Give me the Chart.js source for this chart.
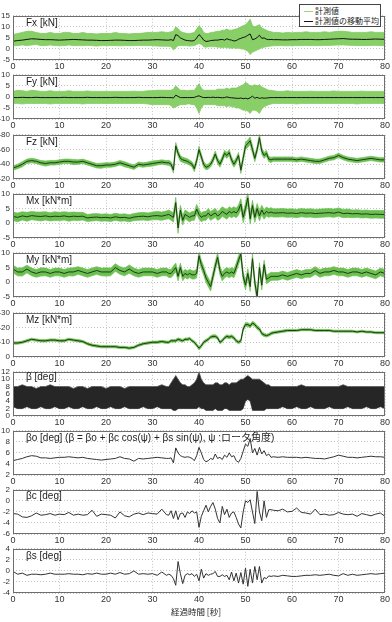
<!DOCTYPE html>
<html><head><meta charset="utf-8">
<script src="https://cdn.jsdelivr.net/npm/chart.js@4.4.1/dist/chart.umd.min.js"></script>
<style>
html,body{margin:0;padding:0;background:#fff;width:392px;height:622px;overflow:hidden;}
#wrap{position:relative;width:392px;height:622px;}
canvas{position:absolute;left:0;}
.lbl{position:absolute;left:26px;font-size:10px;font-family:"Liberation Sans",Arial,"Noto Sans CJK JP",sans-serif;color:#222;white-space:nowrap;z-index:5;line-height:12px;}
#legend{position:absolute;left:299px;top:4px;width:82px;height:23px;border:1px solid #444;background:#fff;z-index:6;box-sizing:border-box;font-family:"Noto Sans CJK JP",sans-serif;font-size:8px;color:#222;}
#legend .row{position:absolute;left:0;height:10px;line-height:10px;white-space:nowrap;}
#legend .sw{position:absolute;left:4px;top:5px;width:9px;height:0;}
#legend .tx{position:absolute;left:15px;top:0;}
#xtitle{position:absolute;left:0;width:392px;top:605px;text-align:center;font-family:"Noto Sans CJK JP",sans-serif;font-size:8.5px;color:#222;z-index:5;}
</style></head><body><div id="wrap">
<div id="legend">
 <div class="row" style="top:1px"><span class="sw" style="border-top:1.5px solid #9bd679"></span><span class="tx">計測値</span></div>
 <div class="row" style="top:11px"><span class="sw" style="border-top:1.5px solid #111"></span><span class="tx">計測値の移動平均</span></div>
</div>
<div id="xtitle">経過時間 [秒]</div>
</div>
<script>
// ---- time axis (seconds) ----
const t = [0,1,2,3,4,5,6,7,8,9,10,11,12,13,14,15,16,17,18,19,20,21,22,23,24,25,26,27,28,29,30,31,32,33,
 33.5,34,34.5,35,35.5, 36,36.5,37,37.5,38,38.5,39,39.5,40,40.5, 41,41.5,42,42.5,43,43.5,44,44.5,45,45.5,
 46,46.5,47,47.5,48,48.5,49,49.5,50,50.5, 51,51.5,52,52.5,53,53.5,54,54.5,55,55.5, 56,
 57,58,59,60,61,62,63,64,65,66,67,68,69,70,71,72,73,74,75,76,77,78,79,80];
const xTicks = [0,10,20,30,40,50,60,70,80];

// ---- Fx [kN] ----
const FxMean = [3.5,3.8,4,4.3,4.6,4.5,4.3,4.2,4.2,4.1, 4,4.1,4.2,4.3,4.2,4.1,4,4,3.9,3.8, 3.8,3.9,4,4,3.9,3.8,3.8,3.9,4,4, 4.1,4.2,4.1,4,
 4,4.2,3.8,6.5,6, 5,4.5,4,3.8,3.7,3.6,3.8,5,6.5,5.5, 4,3.4,3.5,3.8,3.9,4,4,4.2,4.3,4, 4.6,4.2,4,3.6,3.8,4.4,4.8,5.2,5.5,6.2, 6.8,4.2,4.5,5.2,6.2,4.8,5,4.4,4.2,4.3, 4.2,
 4.2,4.1,4.1,4.2,4.2,4.3,4.3,4.3,4.2,4.2, 4.3,4.4,4.5,4.6,4.7,4.5,4.4,4.4,4.3,4.3, 4.4,4.5,4.4,4.4];
const FxUpper = [6.5,7,7.5,8,8,7.5,7,7,7.5,7, 7,7.5,7.5,7,7,7.5,7,7,6.8,7, 7,7,7.5,7,7,6.8,7,7,7.2,7.5, 7.5,7.5,7.8,7.5,
 7.5,7.8,8,10,9.2, 8,7.5,7.2,7,7,7.2,7.5,9,10.5,9.5, 7.5,7,7,7.5,7.5,7.8,8,8,8.5,8.5, 9,8.5,8.5,8.8,9,9.5,10,10.5,11,12, 13.5,10.5,10,10.5,11,9.5,9,8.5,8,7.8, 7.5,
 7.5,7.2,7.5,7.3,7.5,7.5,7.8,7.5,7.5,7.5, 7.8,7.5,7.8,8,8,7.8,7.5,7.5,7.5,7.5, 7.8,7.5,7.5,7.5];
const FxLower = [1.5,1.5,1.8,1.5,1.8,2,1.5,1.5,1.8,1.5, 1.5,1.5,1.8,1.5,1.5,1.5,1.6,1.5,1.3,1.5, 1.5,1.5,1.5,1.4,1.5,1.5,1.5,1.6,1.5,1.5, 1.5,1.3,1.2,1.2,
 1.2,1,-0.5,0.5,1.5, 1.5,1.5,1.5,1.4,1.3,1.4,1.5,2,2.5,2, 1,0.8,1,1,1,1,0.8,0.8,0.5,0.8, 0.5,0.5,0.3,0.5,0.2,0.5,0,0,-0.5,-1, -2.5,-1.5,-1,-0.5,0,0.5,0.8,1,1.2,1.3, 1.4,
 1.5,1.5,1.4,1.5,1.5,1.5,1.6,1.5,1.5,1.5, 1.6,1.6,1.7,1.8,1.8,1.7,1.6,1.5,1.5,1.5, 1.6,1.6,1.5,1.5];

// ---- Fy [kN] ----
const FyMean = [-0.3,-0.3,-0.2,-0.3,-0.3,-0.2,-0.3,-0.3,-0.3,-0.3, -0.3,-0.2,-0.3,-0.3,-0.3,-0.3,-0.2,-0.3,-0.3,-0.3, -0.3,-0.3,-0.2,-0.3,-0.3,-0.3,-0.3,-0.2,-0.3,-0.3, -0.3,-0.3,-0.2,-0.3,
 -0.3,-0.3,-0.5,0.8,0.2, -0.3,-0.3,-0.3,-0.3,-0.3,-0.3,-0.2,0.2,0.5,0, -0.3,-0.3,-0.2,-0.3,-0.1,-0.3,-0.2,-0.3,-0.4,-0.3, 0,-0.3,-0.4,-0.5,-0.6,-0.7,-0.5,-0.8,-0.6,-0.9, -0.4,0.3,-0.6,-0.2,-0.7,-0.4,-0.6,-0.5,-0.4,-0.3, -0.3,
 -0.3,-0.3,-0.3,-0.3,-0.3,-0.3,-0.3,-0.3,-0.3,-0.3, -0.3,-0.3,-0.3,-0.3,-0.3,-0.3,-0.3,-0.3,-0.3,-0.3, -0.3,-0.3,-0.3,-0.3];
const FyUpper = [2.5,3,2.8,2.5,3,2.8,2.5,2.5,2.8,2.5, 2.5,2.5,2.8,2.5,2.5,2.5,2.7,2.5,2.5,2.5, 2.5,2.5,2.5,2.5,2.5,2.5,2.6,2.5,2.5,2.8, 2.8,3,3,3,
 3,3,3.5,5,4, 3,3,3,2.8,3,3,3,4.5,6,4, 3,3,3,3,3,3,3.5,3.5,3.5,3.5, 4,3.5,4,4,4,4.5,5,5.5,6.5,6, 5,5,5.5,5,5.5,4.5,4,3.5,3,3, 2.8,
 2.5,2.5,2.8,2.5,2.5,2.5,2.5,2.6,2.5,2.5, 2.5,2.5,2.7,2.5,2.5,2.5,2.5,2.5,2.6,2.5, 2.5,2.5,2.5,2.5];
const FyLower = [-3,-3,-3.2,-3,-3,-3,-3,-3,-3.2,-3, -3,-3,-3,-3,-3,-3.2,-3,-3,-3,-3, -3,-3,-3,-3,-3,-3,-3,-3,-3,-3.2, -3.5,-3.5,-3.5,-3.5,
 -3.5,-4,-5,-4.5,-4, -3.5,-3.5,-3.5,-3.2,-3.2,-3.5,-3.5,-5,-7.5,-5, -3.5,-3.5,-3.5,-3.5,-3.5,-3.5,-4,-4,-4,-4, -4.5,-4,-4.5,-4.5,-5,-5,-5.5,-6,-6,-6.5, -7.5,-6,-6,-6.5,-7.5,-5.5,-4.5,-4,-3.5,-3.2, -3,
 -3,-3,-3,-3,-3.2,-3,-3,-3,-3,-3, -3,-3,-3,-3,-3,-3,-3,-3.2,-3,-3, -3,-3,-3,-3];

// ---- Fz [kN] (axis reversed) ----
const FzMean = [-35,-37,-40,-44,-45,-44,-42,-41,-42,-42, -43,-44,-44,-43,-43,-44,-42,-40,-38,-38, -39,-39,-40,-42,-40,-38,-36,-40,-39,-40, -41,-42,-43,-42,
 -42,-40,-32,-65,-55, -48,-46,-45,-44,-42,-40,-34,-45,-60,-50, -40,-36,-37,-40,-46,-54,-45,-40,-47,-55, -52,-56,-46,-40,-45,-52,-32,-48,-65,-68, -72,-60,-48,-60,-76,-58,-52,-55,-47,-46, -47,
 -47,-47,-47,-47,-46,-47,-46,-45,-44,-44, -46,-48,-49,-52,-49,-47,-46,-45,-46,-47, -48,-47,-46,-46];
const FzSpread = [3,3,3.5,3,3,3,3,3.5,3,3, 3,3,3,3.5,3,3,3,3,3,3.5, 3,3,3,3,3.5,3,3,3,3,3, 3.5,3,3,3,
 3.5,3.5,4,4.5,4, 4,3.5,3.5,3.5,3.5,3.5,4,4,4.5,4, 4,3.5,3.5,3.5,4,4,4,4,4,4, 4,4,4,4,4,4,4.5,4.5,5,5, 5,5,4.5,4.5,5,4.5,4,4,3.5,3.5, 3,
 3,3,3,3,3,3,3,3,3,3, 3,3,3,3,3,3,3,3,3,3, 3,3,3,3];

// ---- Mx [kN*m] ----
const MxMean = [2.3,2,2.5,2.2,2.6,2.4,2.3,2.5,2.2,2.4, 2.3,2.5,2.2,2.4,2.3,2.4,1.8,2,2.1,1.9, 2,1.8,2.2,1.9,2,1.7,2.1,2.3,2.4,2.2, 2.5,2.6,2.4,2.8,
 3,2.5,2,7,-1.6, 4.5,1,3,2.5,2,2.5,2.5,4.8,3,2, 2.5,2.5,3.5,2.5,3,3.5,2.5,3,4,3.5, 3,4,3.5,4,3.5,4.5,6.5,2,5,8.6, 1.5,6,2,5,2.5,4.5,3,4,3.5,3.8, 3.5,
 3.5,3.6,3.4,3.5,3.3,3.6,3.4,3.5,3.3,3.4, 3.5,3.6,3.4,3.8,3.3,3.4,3.2,3.3,3.1,3.2, 3,3.1,3,3];
const MxSpread = [1.4,1.5,1.4,1.5,1.4,1.4,1.5,1.4,1.4,1.5, 1.4,1.4,1.5,1.4,1.4,1.3,1.2,1.2,1.2,1.2, 1.2,1.2,1.2,1.2,1.2,1.2,1.2,1.3,1.3,1.3, 1.3,1.4,1.4,1.4,
 1.5,1.5,1.6,1.8,1.8, 1.6,1.6,1.5,1.5,1.5,1.5,1.5,1.6,1.6,1.5, 1.5,1.5,1.5,1.5,1.5,1.5,1.5,1.6,1.6,1.6, 1.6,1.6,1.6,1.6,1.6,1.7,1.8,1.8,1.8,1.8, 1.8,1.8,1.7,1.7,1.7,1.6,1.6,1.5,1.5,1.5, 1.4,
 1.4,1.4,1.4,1.4,1.4,1.4,1.4,1.4,1.4,1.4, 1.4,1.4,1.4,1.4,1.4,1.4,1.3,1.3,1.3,1.3, 1.3,1.3,1.3,1.3];

// ---- My [kN*m] ----
const MyMean = [4.5,3.5,3.5,4.5,3.5,3,3.5,3.5,3,3.5, 3.5,3,3.5,3.5,4,3.5,3,3.5,4,3.5, 3.5,3.5,5,4,3.5,4.5,3.5,3,3.5,3.5, 3.5,3,3.5,3.5,
 3,3,4,5,2, 5,2,3,2.5,3,2.5,2.5,3,9,6, 4,1.5,0,-1.5,2,5.5,8.5,4,2,3, 3.5,3,3.5,3,5,7.5,9.5,2,-1,3, -1.5,8,0,-5,5,-1,6,1,1.5,2, 2,
 2,2.5,2,2.5,3,2.5,3,3,4,3, 3.5,3.5,4,3.5,3.5,3,3.5,3.5,3,3.5, 3,2.5,3.5,3];
const MySpread = [1.3,1.3,1.4,1.3,1.3,1.3,1.4,1.3,1.3,1.3, 1.3,1.3,1.3,1.4,1.3,1.3,1.3,1.3,1.3,1.3, 1.4,1.3,1.3,1.3,1.3,1.4,1.3,1.3,1.3,1.3, 1.3,1.3,1.3,1.3,
 1.4,1.4,1.5,1.5,1.5, 1.5,1.5,1.4,1.4,1.4,1.4,1.4,1.5,1.5,1.5, 1.5,1.5,1.5,1.5,1.5,1.5,1.5,1.5,1.5,1.5, 1.5,1.5,1.5,1.5,1.5,1.5,1.5,1.5,1.6,1.6, 1.6,1.6,1.6,1.6,1.6,1.6,1.5,1.5,1.4,1.4, 1.3,
 1.3,1.3,1.3,1.3,1.3,1.3,1.3,1.3,1.3,1.3, 1.3,1.3,1.3,1.3,1.3,1.3,1.3,1.3,1.3,1.3, 1.3,1.3,1.3,1.3];

// ---- Mz [kN*m] (axis reversed) ----
const MzMean = [-9.5,-9.5,-10,-11,-12,-11.5,-11,-11,-11.5,-11.5, -11,-11,-12,-11.5,-11,-10.5,-9,-8,-7.5,-7, -7,-7,-7,-6.5,-6.5,-6,-6.5,-8,-9,-9.5, -10,-10,-10.5,-10,
 -10,-11,-11,-11,-12, -11.5,-11,-12,-12,-12.5,-11,-10,-8,-6,-7.5, -10,-11,-12,-13.5,-14,-14,-13,-10,-11,-13, -14,-13.5,-14,-13,-11,-10,-11,-19,-22,-22, -21,-23,-22,-20,-19,-16,-15,-14.5,-15,-16, -16.5,
 -17,-17.5,-18,-18,-18,-18.5,-18.5,-18.5,-18,-18, -18,-18,-17.5,-17.5,-17.5,-17.5,-17.5,-17,-17.5,-17, -17,-16.5,-16.5,-16.5];
const MzSpread = [0.8,0.8,0.8,0.8,0.8,0.8,0.8,0.8,0.8,0.8, 0.8,0.8,0.8,0.8,0.8,0.8,0.8,0.8,0.8,0.8, 0.8,0.8,0.8,0.8,0.8,0.8,0.8,0.8,0.8,0.8, 0.8,0.8,0.8,0.8,
 0.9,0.9,0.9,1,1, 1,0.9,0.9,0.9,0.9,0.9,1,1,1.2,1.1, 1,1,1,1,1.1,1.1,1.1,1,1,1, 1.1,1.1,1.1,1.1,1,1,1.1,1.3,1.3,1.3, 1.3,1.3,1.3,1.3,1.2,1.2,1.1,1,1,1, 0.9,
 0.8,0.8,0.8,0.7,0.7,0.7,0.7,0.7,0.7,0.7, 0.7,0.7,0.7,0.7,0.7,0.7,0.7,0.7,0.7,0.7, 0.7,0.7,0.7,0.7];

// ---- β [deg] envelope ----
const BetaUpper = [8,8,8.5,8,8,7.5,8,8,8.5,8, 8,8,8,7.5,8,8,7.5,8,8,8, 7.5,8,8,8,7.5,8,8,8,8,8, 8,8,8.5,8,
 8,9,10,11,10, 9,8.5,8.5,8,8,8.5,9,10,12,10, 9,8.5,8.5,8.5,8.5,9,9,8.5,8.5,9, 9,8.5,9,9,9,9.5,10,10,10.5,11, 10.5,10,10,10,10,9.5,9,8.5,8.5,8, 8,
 8,8,8,8,8,8.5,8,8,8,8, 8,8,8,8,8.5,8,8,8,8,8, 8,8,8,8];
const BetaLower = [2.5,2,2,2.5,2,2,2.5,2,2,2.5, 2,2,2.5,2,2,2.5,2,2,2.5,2, 2,2.5,2,2,2.5,2,2,2,2.5,2, 2,2.5,2,2,
 2,2,1.5,1.5,2, 2,2,2,2,2,2,2,2,2.5,2, 2,1.5,1.5,1.5,1.5,2,1.5,1.5,1.5,2, 2,1.5,1.5,1.5,1.5,1.5,1.5,2,4,4.5, 4,1.5,1.5,1.5,1.5,1.5,1.5,2,2,2, 2,
 2,2.5,2,2,2.5,2,2,2.5,2,2, 2,2.5,2,2,2,2.5,2,2,2,2.5, 2,2,2.5,2];

// ---- βo, βc, βs [deg] ----
const BetaO = [4.6,4.8,5,5.3,5.5,5.4,5.1,5.1,5,5.1, 5.2,5.2,5.3,5.2,5.1,5.2,5,4.9,4.8,4.7, 4.8,4.9,5,5.3,5,4.9,4.5,5,4.9,5, 5.1,5.2,5.1,5,
 5,5.1,4.2,6.9,6, 5.5,5.3,5.2,5.3,5.2,5,4.6,5.5,7,6, 4.8,4.4,4.6,5,4.8,5.8,5,5.2,4.8,5.6, 5.2,6,5.3,5.5,4.6,4.3,5,6.3,7.6,7.2, 8.6,6,6.8,5.6,7,5.8,6.4,5.5,5.8,5.2, 5.3,
 5.2,5.3,5.2,5.2,5.2,5.1,5.2,5.1,5,5, 4.9,5.1,5.3,5.6,5.4,5.2,5.2,5.1,5.2,5.3, 5.4,5.3,5.3,5.2];
const BetaC = [-2.3,-2.4,-2.9,-3,-2.7,-2.2,-2.6,-2.5,-2.3,-2.6, -2.4,-2.5,-2.1,-2.6,-2.4,-2.6,-2.5,-1.7,-2.8,-2.4, -2.5,-2.6,-3.1,-2,-2.7,-2.9,-2.4,-2.2,-2.5,-2.2, -2.3,-2.4,-1.5,-2.5,
 -2.6,-1.8,-3.2,-1.8,-3.4, -2.3,-2.2,-3,-2,-2.3,-1.8,-2.2,-2,-4.8,-2.8, -1.8,-0.8,-2,-1,-0.3,-1.5,-3.2,-4,-1,-2.5, -1.5,-3,-2.2,-2,-3,-4.2,-4.9,-2,0,-0.3, 0.2,-2,-4.1,1.7,-2,-3.6,0,-3,-1.6,-1.6, -1.7,
 -1.8,-1.5,-2,-1.9,-1.3,-2.1,-2.2,-2.4,-1.5,-2.5, -2.4,-2.6,-2.5,-2.1,-2.4,-2.5,-2.4,-2.8,-2.3,-2.5, -2.7,-2.4,-2.2,-2.8];
const BetaS = [-0.1,-0.6,-0.4,-0.8,-0.6,-0.6,-0.7,-0.6,-0.4,-0.6, -0.6,-0.6,-0.5,-0.6,-0.6,-0.7,-0.5,-0.6,-0.4,-0.6, -0.6,-0.4,-0.6,-0.3,-0.6,-0.5,0,-0.6,-0.5,-0.6, -0.5,-0.8,-0.2,-0.8,
 -0.6,-0.8,-1.4,-2.6,1.7, -0.5,-2.3,-0.8,-0.5,-0.7,-0.5,-1,-0.6,-1.8,0.3, -1.3,-0.5,-0.8,-0.6,-0.5,-0.1,-1,-1,-0.7,-1, -0.8,-1.6,-0.2,-1.8,-0.4,-2.2,-0.3,-2.4,0.5,-2.8, 0.3,-2.2,0.8,-1.6,0.8,-2.2,-1.2,-1.4,-0.9,-1, -0.9,
 -1,-0.8,-0.9,-1,-1,-0.9,-0.8,-0.8,-0.7,-0.8, -0.7,-0.6,-0.8,-0.9,-0.5,-0.8,-0.6,-0.8,-0.7,-0.6, -0.5,-0.6,-0.5,-0.4];

// ---- validation ----
const all = {FxMean,FxUpper,FxLower,FyMean,FyUpper,FyLower,FzMean,FzSpread,MxMean,MxSpread,MyMean,MySpread,MzMean,MzSpread,BetaUpper,BetaLower,BetaO,BetaC,BetaS};
for (const k in all) if (all[k].length !== t.length) throw new Error(k + ' has ' + all[k].length + ' values, expected ' + t.length);

const plus = (a,b)=>a.map((v,i)=>v+b[i]);
const minus = (a,b)=>a.map((v,i)=>v-b[i]);
const pts = a => t.map((x,i)=>({x:x, y:a[i]}));

const GREEN = 'rgb(136,207,104)';
const GREEN2 = 'rgb(108,192,82)';
const panels = [
 {label:'Fx [kN]', min:-5, max:15, step:5, upper:FxUpper, lower:FxLower, line:FxMean, fillC:GREEN, edgeC:'rgb(120,196,88)', lineC:'#111'},
 {label:'Fy [kN]', min:-10, max:10, step:5, upper:FyUpper, lower:FyLower, line:FyMean, fillC:GREEN, edgeC:'rgb(120,196,88)', lineC:'#111'},
 {label:'Fz [kN]', min:-80, max:-20, step:20, rev:true, upper:plus(FzMean,FzSpread), lower:minus(FzMean,FzSpread), line:FzMean, fillC:GREEN2, edgeC:GREEN2, lineC:'#1d3a15'},
 {label:'Mx [kN*m]', min:-5, max:10, step:5, upper:plus(MxMean,MxSpread), lower:minus(MxMean,MxSpread), line:MxMean, fillC:GREEN2, edgeC:GREEN2, lineC:'#1d3a15'},
 {label:'My [kN*m]', min:-5, max:10, step:5, upper:plus(MyMean,MySpread), lower:minus(MyMean,MySpread), line:MyMean, fillC:GREEN2, edgeC:GREEN2, lineC:'#1d3a15'},
 {label:'Mz [kN*m]', min:-30, max:0, step:10, rev:true, upper:plus(MzMean,MzSpread), lower:minus(MzMean,MzSpread), line:MzMean, fillC:GREEN2, edgeC:GREEN2, lineC:'#1d3a15'},
 {label:'β [deg]', min:0, max:12, step:2, upper:BetaUpper, lower:BetaLower, fillC:'#262626', edgeC:'#555', lblDy:-2},
 {label:'βo [deg]  (β = βo + βc cos(ψ) + βs sin(ψ),  ψ :ロータ角度)', min:2, max:10, step:2, line:BetaO, lineC:'#333'},
 {label:'βc [deg]', min:-6, max:2, step:2, line:BetaC, lineC:'#333', lblDy:-1},
 {label:'βs [deg]', min:-4, max:4, step:2, line:BetaS, lineC:'#333'}
];
const tops = [15,74,134,193,252,312,371,430,489,548];
const PADT = 7, PH = 45, XH = 14;

const boxPlugin = {id:'box', afterDraw(chart){
  const a = chart.chartArea, c = chart.ctx;
  c.save(); c.strokeStyle = '#6e6e6e'; c.lineWidth = 1;
  c.strokeRect(Math.round(a.left)+0.5, Math.round(a.top)+0.5, Math.round(a.right-a.left)-1, Math.round(a.bottom-a.top)-1);
  c.restore();
}};

Chart.defaults.font.family = '"Liberation Sans", Arial, sans-serif';
const wrap = document.getElementById('wrap');
panels.forEach((p,i)=>{
  const cv = document.createElement('canvas');
  cv.width = 392; cv.height = PADT + PH + XH;
  cv.style.top = (tops[i]-PADT) + 'px';
  wrap.appendChild(cv);
  const ds = [];
  if (p.line) ds.push({data:pts(p.line), borderColor:p.lineC, borderWidth:1, fill:false});
  if (p.upper) {
    ds.push({data:pts(p.upper), borderColor:p.edgeC, backgroundColor:p.fillC, borderWidth:0.7, fill:'+1'});
    ds.push({data:pts(p.lower), borderColor:p.edgeC, borderWidth:0.7, fill:false});
  }
  const gridOpt = {color:'#c4c4c4', drawTicks:false, lineWidth:1};
  new Chart(cv, {
    type:'line',
    data:{datasets:ds},
    options:{
      responsive:false, animation:false, events:[],
      layout:{padding:{top:PADT, right:7, left:0, bottom:0}},
      plugins:{legend:{display:false}, tooltip:{enabled:false}},
      elements:{point:{radius:0}, line:{tension:0}},
      scales:{
        x:{type:'linear', min:0, max:80, afterFit:s=>{s.height=XH;},
           afterBuildTicks:s=>{s.ticks = xTicks.map(v=>({value:v}));},
           ticks:{padding:1, maxRotation:0, autoSkip:false, color:'#333', font:{size:9}},
           grid:gridOpt, border:{display:false, dash:[1,2]}},
        y:{type:'linear', min:p.min, max:p.max, reverse:!!p.rev, afterFit:s=>{s.width=13;},
           ticks:{stepSize:p.step, padding:3, autoSkip:false, color:'#333', font:{size:8}},
           grid:gridOpt, border:{display:false, dash:[1,2]}}
      }
    },
    plugins:[boxPlugin]
  });
  const lb = document.createElement('div');
  lb.className = 'lbl';
  lb.textContent = p.label;
  lb.style.top = (tops[i] + 2 + (p.lblDy||0)) + 'px';
  wrap.appendChild(lb);
});
</script></body></html>
